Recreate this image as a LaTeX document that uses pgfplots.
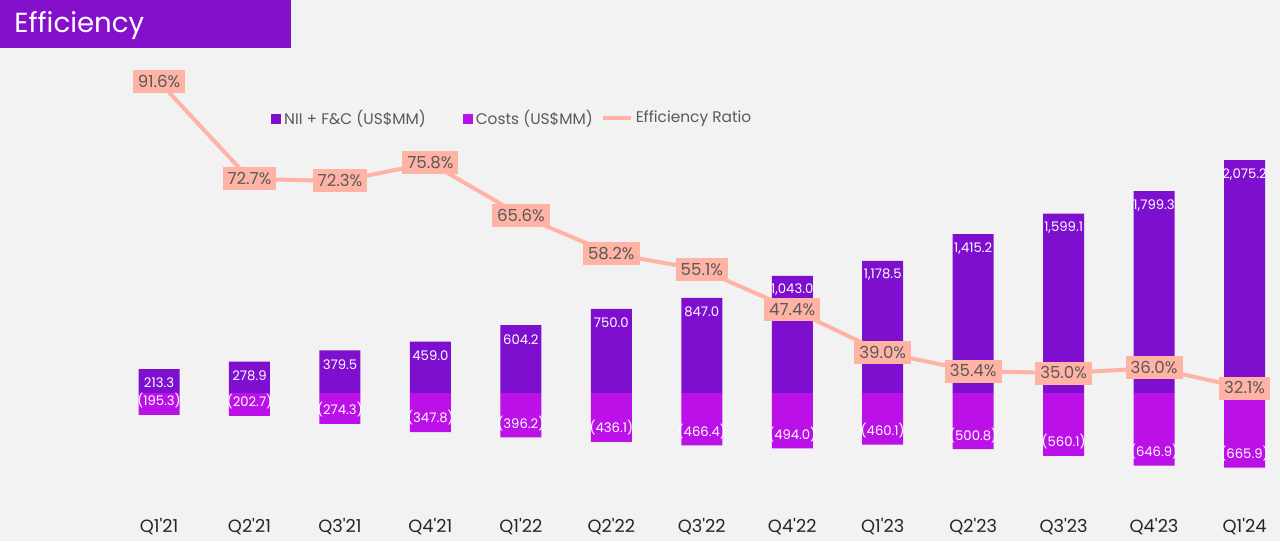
\documentclass[border=0pt]{standalone}
\usepackage{pgfplots}
\pgfplotsset{compat=1.18}
\usepackage{pgfplotstable}
\usepackage{fontspec}
\setmainfont{Poppins}

\definecolor{bg}{HTML}{F2F2F2}
\definecolor{titlebg}{HTML}{8410CC}
\definecolor{nii}{HTML}{7E0FCF}
\definecolor{costs}{HTML}{BB10E8}
\definecolor{ratio}{HTML}{FFB3A5}
\definecolor{ratiotxt}{HTML}{595959}
\definecolor{ticktxt}{HTML}{262626}

\pgfplotstableread{
x y lab
0 213.3 213.3
1 278.9 278.9
2 379.5 379.5
3 459.0 459.0
4 604.2 604.2
5 750.0 750.0
6 847.0 847.0
7 1043.0 1,043.0
8 1178.5 1,178.5
9 1415.2 1,415.2
10 1599.1 1,599.1
11 1799.3 1,799.3
12 2075.2 2,075.2
}\niidata

\pgfplotstableread{
x y lab
0 -195.3 (195.3)
1 -202.7 (202.7)
2 -274.3 (274.3)
3 -347.8 (347.8)
4 -396.2 (396.2)
5 -436.1 (436.1)
6 -466.4 (466.4)
7 -494.0 (494.0)
8 -460.1 (460.1)
9 -500.8 (500.8)
10 -560.1 (560.1)
11 -646.9 (646.9)
12 -665.9 (665.9)
}\costdata

\pgfplotstableread{
x y lab
0 91.6 91.6
1 72.7 72.7
2 72.3 72.3
3 75.8 75.8
4 65.6 65.6
5 58.2 58.2
6 55.1 55.1
7 47.4 47.4
8 39.0 39.0
9 35.4 35.4
10 35.0 35.0
11 36.0 36.0
12 32.1 32.1
}\ratiodata

\pgfplotsset{base/.style={scale only axis, width=640pt, height=270.5pt,
  xmin=-1.758, xmax=12.392, clip=false}}
\newcommand{\q}{\textquotesingle}

\begin{document}
\begin{tikzpicture}
\begin{axis}[base, ymin=-1319, ymax=3503,
  axis background/.style={fill=bg},
  axis line style={draw=none}, tick style={draw=none}, major tick length=0pt,
  ytick=\empty, xtick={0,...,12},
  xticklabels={Q1\q21,Q2\q21,Q3\q21,Q4\q21,Q1\q22,Q2\q22,Q3\q22,Q4\q22,Q1\q23,Q2\q23,Q3\q23,Q4\q23,Q1\q24},
  xticklabel style={anchor=center, yshift=7.25pt, font=\fontsize{8.9}{11}\selectfont, text=ticktxt},
  ybar, bar width=20.5pt, bar shift=0pt,
  point meta=explicit symbolic, nodes near coords,
  every node near coord/.append style={font=\fontsize{6.6}{8}\selectfont, text=white, anchor=center, inner sep=0pt}]
\addplot[fill=nii, draw=none, every node near coord/.append style={anchor=center, yshift=-7pt}]
  table[x=x, y=y, meta=lab]{\niidata};
\addplot[fill=costs, draw=none, every node near coord/.append style={anchor=center, yshift=7pt}]
  table[x=x, y=y, meta=lab]{\costdata};
\coordinate (bl) at (rel axis cs:0,0);
\coordinate (tr) at (rel axis cs:1,1);
\node[fill=titlebg, anchor=north west, minimum width=145.5pt, minimum height=23.8pt, inner sep=0pt] at (rel axis cs:0,1) {};
\node[anchor=base west, inner sep=0pt, text=white, font=\fontsize{13.8}{16}\selectfont, xshift=7pt, yshift=-16.5pt] at (rel axis cs:0,1) {Efficiency};
\end{axis}
\begin{axis}[base, ymin=2.41, ymax=107.44, hide axis,
  point meta=explicit symbolic,
  legend columns=-1,
  legend style={at={(rel axis cs:0.2117,0.7810)}, anchor=west, draw=none, fill=none,
    inner sep=0pt, font=\fontsize{7.7}{9}\selectfont, text=ratiotxt,
    nodes={inner xsep=1.5pt, inner ysep=0pt},
    /tikz/every even column/.append style={column sep=5.5pt}}]
\addlegendimage{legend image code/.code={\fill[nii] (0pt,-2.25pt) rectangle (4.5pt,2.25pt);}}
\addlegendentry{NII + F\&C (US\$MM)\kern11.5pt}
\addlegendimage{legend image code/.code={\fill[costs] (0pt,-2.25pt) rectangle (4.5pt,2.25pt);}}
\addlegendentry{Costs (US\$MM)\kern-3pt}
\addplot[ratio, line width=2pt, mark=none,
  legend image code/.code={\draw[line width=2pt] (0pt,0pt) -- (14pt,0pt);},
  nodes near coords={\pgfplotspointmeta\%},
  every node near coord/.append style={fill=ratio, text=ratiotxt, anchor=center,
    font=\fontsize{8.3}{10}\selectfont, inner xsep=2.5pt, inner ysep=2.85pt,
    text height=5.8pt, text depth=0pt}]
  table[x=x, y=y, meta=lab]{\ratiodata};
\addlegendentry{Efficiency Ratio}
\end{axis}
\pgfresetboundingbox
\path[use as bounding box] (bl) rectangle (tr);
\end{tikzpicture}
\end{document}
